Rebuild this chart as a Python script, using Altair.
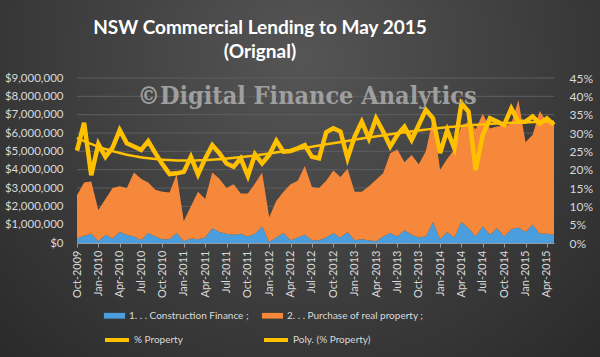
import json
import altair as alt
import pandas as pd

# ---- data ----
months = pd.date_range("2009-10-01", "2015-05-01", freq="MS").strftime("%b-%Y").tolist()

# $ millions
construction = [0.25, 0.4, 0.5, 0.1, 0.45, 0.25, 0.6, 0.45, 0.35, 0.15,
                0.55, 0.35, 0.2, 0.2, 0.55, 0.1, 0.25, 0.2, 0.3, 0.8,
                0.6, 0.5, 0.45, 0.5, 0.35, 0.5, 0.9, 0.05, 0.3, 0.55,
                0.15, 0.3, 0.45, 0.15, 0.15, 0.3, 0.55, 0.3, 0.6, 0.15,
                0.2, 0.15, 0.1, 0.35, 0.55, 0.35, 0.7, 0.45, 0.3, 0.35,
                1.15, 0.2, 0.6, 0.3, 1.15, 0.8, 0.35, 0.9, 0.45, 0.8,
                0.35, 0.75, 0.85, 0.6, 1.0, 0.5, 0.5, 0.45]
purchase = [2.35, 2.9, 2.85, 1.7, 1.95, 2.75, 2.5, 2.55, 3.5, 3.35,
            2.75, 2.55, 2.6, 2.55, 3.2, 1.1, 1.75, 2.6, 2.1, 3.05,
            2.9, 2.5, 2.75, 2.2, 2.35, 2.75, 2.95, 1.35, 2.0, 2.25,
            3.05, 3.1, 3.75, 2.9, 2.85, 3.1, 3.4, 3.3, 3.45, 2.65,
            2.6, 2.95, 3.35, 3.45, 4.35, 4.75, 3.7, 4.35, 4.0, 4.65,
            5.65, 3.8, 4.0, 4.8, 5.25, 5.8, 5.85, 6.15, 5.8, 5.55,
            6.05, 5.75, 6.95, 4.9, 4.9, 6.7, 6.1, 6.05]
pct_property = [25.2, 32.8, 18.5, 27.0, 23.5, 26.0, 30.8, 27.2, 26.3, 25.4,
                27.8, 24.5, 21.5, 18.8, 19.0, 19.4, 23.5, 18.7, 23.0, 26.7,
                24.5, 21.7, 20.8, 23.1, 18.3, 24.2, 21.7, 24.0, 27.9, 24.9,
                25.1, 25.8, 26.7, 23.5, 23.1, 30.2, 31.3, 30.4, 23.1, 29.0,
                33.1, 28.5, 34.0, 30.4, 26.3, 29.5, 31.7, 28.1, 32.2, 36.3,
                34.0, 24.5, 30.8, 25.8, 38.1, 35.8, 19.9, 29.5, 34.0, 33.1,
                32.2, 36.7, 33.1, 33.1, 34.5, 32.6, 34.0, 32.2]

series_names = ["1. . . Construction Finance ;", "2. . . Purchase of real property ;"]
line_names = ["% Property", "Poly. (% Property)"]
dollar_ticks = [0, 1, 2, 3, 4, 5, 6, 7, 8, 9]          # $ millions
pct_ticks = [0, 5, 10, 15, 20, 25, 30, 35, 40, 45]
title_lines = ["NSW Commercial Lending to May 2015", "(Orignal)"]

n = len(months)
t = list(range(n))

area_df = pd.DataFrame({
    "t": t * 2,
    "series": [series_names[0]] * n + [series_names[1]] * n,
    "value": [v * 1e6 for v in construction + purchase],
})
pct_df = pd.DataFrame({"t": t, "pct": pct_property, "s": [line_names[0]] * n})
grid_df = pd.DataFrame({"value": [v * 1e6 for v in dollar_ticks[1:]]})
one = pd.DataFrame({"a": [0]})

W, H = 477, 165
PAD = {"left": 77, "top": 78, "right": 46, "bottom": 114}
FONT = "Lato"
LBL = "#d9d9d9"

xscale = alt.Scale(domain=[0, n - 1], nice=False, zero=False)
xaxis = alt.Axis(
    values=list(range(0, n, 3)),
    labelExpr=f"{json.dumps(months)}[datum.value]",
    labelAngle=-90, labelFont=FONT, labelFontSize=11, labelColor=LBL,
    labelPadding=3, tickSize=4, tickColor="#9a9a9a", domainColor="#9a9a9a",
    grid=False, title=None, zindex=1,
)
x_enc = alt.X("t:Q", scale=xscale, axis=xaxis)

yl_scale = alt.Scale(domain=[0, 9e6], nice=False)
yl_axis = alt.Axis(orient="left", values=[v * 1e6 for v in dollar_ticks],
                   format="$,.0f", labelFont=FONT, labelFontSize=11.5,
                   labelColor=LBL, labelPadding=14, ticks=False,
                   domain=False, grid=False, title=None, zindex=1)
yr_scale = alt.Scale(domain=[0, 45], nice=False)
yr_axis = alt.Axis(orient="right", values=pct_ticks,
                   labelExpr="datum.value + '%'", labelFont=FONT,
                   labelFontSize=12, labelColor=LBL, labelPadding=15,
                   ticks=False, domain=False, grid=False, title=None, zindex=1)

# background gradient panel
bg = alt.Chart(one).mark_rect(
    fill={"gradient": "radial",
          "stops": [{"offset": 0, "color": "#555555"}, {"offset": 1, "color": "#242424"}],
          "x1": 0.5, "y1": 0.3, "r1": 0, "x2": 0.5, "y2": 0.3, "r2": 0.8},
    strokeWidth=0,
).encode(x=alt.value(-PAD["left"]), x2=alt.value(W + PAD["right"]),
         y=alt.value(-PAD["top"]), y2=alt.value(H + PAD["bottom"]))

grid = alt.Chart(grid_df).mark_rule(color="#5e5e5e", strokeWidth=1).encode(
    y=alt.Y("value:Q", scale=yl_scale, axis=yl_axis),
    x=alt.value(0), x2=alt.value(W),
)

areas = alt.Chart(area_df).mark_area(opacity=1).encode(
    x=x_enc,
    y=alt.Y("value:Q", stack="zero", scale=yl_scale, axis=yl_axis),
    color=alt.Color("series:N",
                    scale=alt.Scale(domain=series_names, range=["#4A9EDD", "#F5883A"]),
                    legend=alt.Legend(orient="none", legendX=26, legendY=226,
                                      direction="horizontal", columns=2,
                                      title=None, labelFont=FONT, labelFontSize=10,
                                      labelColor=LBL, labelOffset=3,
                                      symbolType="M-1,-0.3L1,-0.3L1,0.3L-1,0.3Z",
                                      symbolSize=484, symbolStrokeWidth=0.8,
                                      symbolStrokeColor="#333",
                                      columnPadding=10, zindex=1)),
    order=alt.Order("series:N"),
)

left_group = alt.layer(grid, areas)

pct_line = alt.Chart(pct_df).mark_line(strokeWidth=4.5).encode(
    x=x_enc,
    y=alt.Y("pct:Q", scale=yr_scale, axis=yr_axis),
    color=alt.Color("s:N",
                    scale=alt.Scale(domain=line_names, range=["#FFC000", "#FFC000"]),
                    legend=alt.Legend(orient="none", legendX=26, legendY=248,
                                      direction="horizontal", columns=2,
                                      title=None, labelFont=FONT, labelFontSize=10,
                                      labelColor=LBL, labelOffset=3,
                                      symbolType="stroke", symbolSize=576,
                                      symbolStrokeWidth=4, columnPadding=73,
                                      zindex=1)),
)

poly_line = alt.Chart(pct_df).transform_regression(
    "t", "pct", method="poly", order=4
).transform_calculate(s=f"'{line_names[1]}'").mark_line(strokeWidth=2.5).encode(
    x=x_enc,
    y=alt.Y("pct:Q", scale=yr_scale, axis=yr_axis),
    color=alt.Color("s:N"),
)

right_group = alt.layer(pct_line, poly_line)

watermark = alt.Chart(one).mark_text(
    text="\u00a9Digital Finance Analytics", font="DejaVu Serif Condensed",
    fontWeight="bold", fontSize=25, color="#a8a8a8", opacity=0.9,
    align="center", baseline="middle",
).encode(x=alt.value(230), y=alt.value(18))

title = alt.Chart(one).mark_text(
    text=title_lines, font=FONT, fontSize=19, fontWeight="bold",
    color="#ffffff", lineHeight=24, align="center", baseline="middle",
).encode(x=alt.value(183), y=alt.value(-50))

chart = alt.layer(bg, left_group, right_group, watermark, title).resolve_scale(
    y="independent", color="independent"
).properties(
    width=W, height=H,
    autosize=alt.AutoSizeParams(type="none"),
    padding=PAD,
    background="#333333",
).configure_view(stroke=None)

chart.save("out.html", embed_options={"renderer": "svg", "actions": False})
